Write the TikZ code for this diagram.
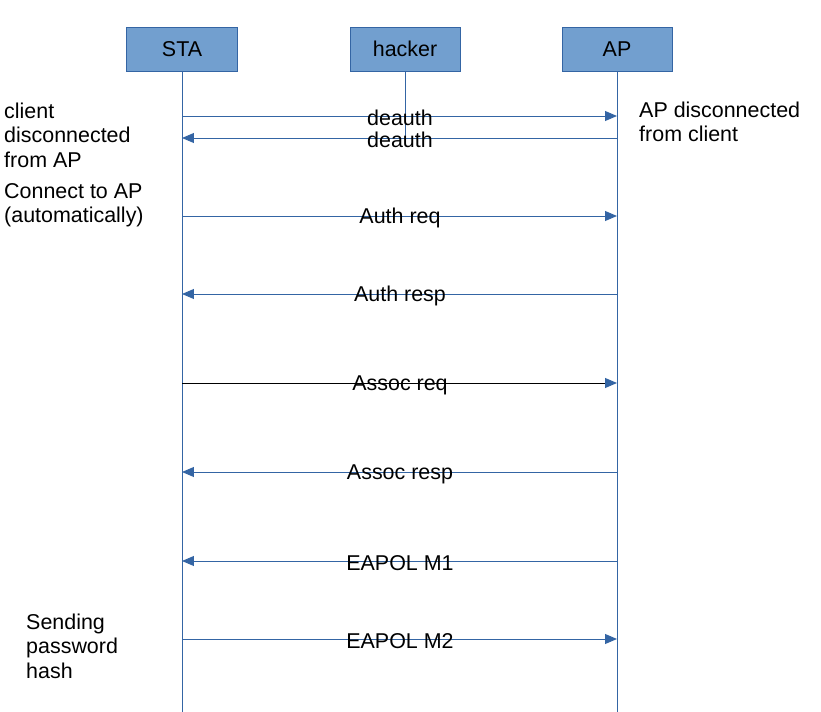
\documentclass[tikz,border=0pt]{standalone}
\usepackage{fontspec}
\setmainfont{Liberation Sans}
\usetikzlibrary{arrows.meta}
\definecolor{boxfill}{HTML}{729FCF}
\definecolor{boxline}{HTML}{3465A4}
\tikzset{
  actor/.style={draw=boxline, fill=boxfill, minimum width=111\px, minimum height=44\px, inner sep=0pt, font=\fsz},
  life/.style={draw=boxline, line width=0.8pt},
  msg/.style={draw=boxline, line width=0.8pt, -{Triangle[length=12\px,width=10\px]}},
  lbl/.style={font=\fsz, inner sep=0pt},
  note/.style={font=\fsz, inner sep=0pt, align=left, anchor=north west}
}
\newcommand{\px}{*0.85pt}
\newcommand{\fsz}{\fontsize{18.3}{20.6}\selectfont}
\begin{document}
\begin{tikzpicture}[x=0.03cm,y=-0.03cm]
  \useasboundingbox (0,0) rectangle (821,712);

  % actors
  \node[actor] (sta) at (182,49) {STA};
  \node[actor] (hck) at (405,49) {hacker};
  \node[actor] (ap) at (617,49) {AP};
  \coordinate (staend) at (182,712);
  \coordinate (hckend) at (405,138);
  \coordinate (apend) at (617,712);
  \draw[life] (sta) -- (staend);
  \draw[life] (hck) -- (hckend);
  \draw[life] (ap) -- (apend);

  % messages
  \foreach \y/\txt/\dir in {116/deauth/r, 138/deauth/l, 216/Auth req/r, 294/Auth resp/l,
      383/Assoc req/r, 472/Assoc resp/l, 561/EAPOL M1/l, 639/EAPOL M2/r} {
    \coordinate (s\y) at (182,\y);
    \coordinate (a\y) at (617,\y);
    \if\dir r
      \draw[msg] (s\y) -- (a\y);
    \else
      \draw[msg] (a\y) -- (s\y);
    \fi
    \node[lbl] (m\y) at (400,\y+2) {\txt};
  }
  \draw[black, line width=0.8pt] (s383) -- (605,383);

  % notes
  \node[note] (n1) at (4,103) {client\\disconnected\\from AP};
  \node[note] (n2) at (4,183) {Connect to AP\\(automatically)};
  \node[note] (n3) at (639,102) {AP disconnected\\from client};
  \node[note] (n4) at (26,614) {Sending\\password\\hash};
\end{tikzpicture}
\end{document}
